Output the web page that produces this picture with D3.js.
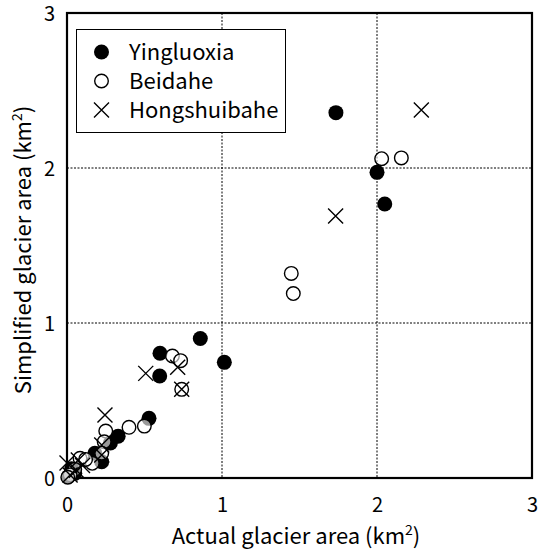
<!DOCTYPE html>
<html>
<head>
<meta charset="utf-8">
<script src="https://cdn.jsdelivr.net/npm/d3@7"></script>
<style>
body { margin: 0; background: #fff; }
svg { display: block; }
text { font-family: "Noto Sans CJK JP", "Noto Sans", sans-serif; fill: #000; }
</style>
</head>
<body>
<svg id="chart" width="540" height="550"></svg>
<script>
const seriesNames = ["Yingluoxia", "Beidahe", "Hongshuibahe"];
const yingluoxia = [[1.735,2.357],[2.0,1.972],[2.05,1.768],[0.86,0.90],[0.60,0.805],[1.015,0.746],[0.598,0.658],[0.529,0.385],[0.33,0.27],[0.28,0.226],[0.224,0.105],[0.18,0.16],[0.05,0.03],[0.01,0.01],[0.03,0.06]];
const beidahe = [[2.03,2.06],[2.157,2.065],[1.447,1.32],[1.46,1.19],[0.68,0.787],[0.733,0.757],[0.74,0.572],[0.499,0.335],[0.40,0.327],[0.25,0.303],[0.24,0.234],[0.224,0.16],[0.163,0.095],[0.084,0.127],[0.05,0.056],[0.02,0.02],[0.005,0.005],[0.12,0.12]];
const hongshuibahe = [[2.286,2.374],[1.733,1.69],[0.714,0.714],[0.508,0.675],[0.74,0.572],[0.245,0.406],[0.224,0.213],[0.224,0.148],[0.073,0.116],[0.06,0.05],[0.0,0.097],[0.02,0.02],[0.1,0.08]];
const xTicks = [0, 1, 2, 3];
const yTicks = [0, 1, 2, 3];
const xTitle = "Actual glacier area (km";
const yTitle = "Simplified glacier area (km";

const svg = d3.select("#chart");
const L = 67, R = 532, T = 13, B = 478;
const x = d3.scaleLinear().domain([0, 3]).range([L, R]);
const y = d3.scaleLinear().domain([0, 3]).range([B, T]);
const r = 7.5;

// grid
const grid = svg.append("g");
grid.selectAll(".gx").data(xTicks.filter(d => d > 0 && d < 3)).join("line")
  .attr("x1", d => x(d)).attr("x2", d => x(d)).attr("y1", T).attr("y2", B)
  .attr("stroke", "#000").attr("stroke-width", 1).attr("stroke-dasharray", "2,1.5");
grid.selectAll(".gy").data(yTicks.filter(d => d > 0 && d < 3)).join("line")
  .attr("y1", d => y(d)).attr("y2", d => y(d)).attr("x1", L).attr("x2", R)
  .attr("stroke", "#000").attr("stroke-width", 1).attr("stroke-dasharray", "2,1.5");

// axes
const xAxis = d3.axisBottom(x).tickValues(xTicks).tickSize(0).tickPadding(0).tickFormat(d3.format("d"));
const gx = svg.append("g").attr("transform", `translate(0,${B})`).call(xAxis);
gx.select(".domain").remove();
gx.selectAll("text").attr("y", 34).attr("dy", null).style("font-size", "20px");
const yAxis = d3.axisLeft(y).tickValues(yTicks).tickSize(0).tickPadding(0).tickFormat(d3.format("d"));
const gy = svg.append("g").attr("transform", `translate(${L},0)`).call(yAxis);
gy.select(".domain").remove();
gy.selectAll("text").attr("x", -12).attr("dy", "0.36em").style("font-size", "20px");

// frame
svg.append("rect").attr("x", L).attr("y", T).attr("width", R - L).attr("height", B - T)
  .attr("fill", "none").attr("stroke", "#000").attr("stroke-width", 2.2);

// titles
const xt = svg.append("text").attr("x", 296).attr("y", 544).attr("text-anchor", "middle").style("font-size", "22px");
xt.append("tspan").text(xTitle);
xt.append("tspan").attr("dy", -9).style("font-size", "14px").text("2");
xt.append("tspan").attr("dy", 9).text(")");
const yt = svg.append("text").attr("transform", `translate(31,250) rotate(-90)`).attr("text-anchor", "middle").style("font-size", "22px");
yt.append("tspan").text(yTitle);
yt.append("tspan").attr("dy", -9).style("font-size", "14px").text("2");
yt.append("tspan").attr("dy", 9).text(")");

// markers
function drawCross(g, cx, cy, s) {
  g.append("path").attr("d", `M${cx - s},${cy - s}L${cx + s},${cy + s}M${cx - s},${cy + s}L${cx + s},${cy - s}`)
    .attr("stroke", "#000").attr("stroke-width", 1.4).attr("fill", "none");
}
const pts = svg.append("g");
pts.selectAll(".yl").data(yingluoxia).join("circle")
  .attr("cx", d => x(d[0])).attr("cy", d => y(d[1])).attr("r", r).attr("fill", "#000");
pts.selectAll(".bd").data(beidahe).join("circle")
  .attr("cx", d => x(d[0])).attr("cy", d => y(d[1])).attr("r", r - 0.7)
  .attr("fill", "#fff").attr("fill-opacity", 0.6).attr("stroke", "#000").attr("stroke-width", 1.4);
const hg = pts.append("g");
hongshuibahe.forEach(d => drawCross(hg, x(d[0]), y(d[1]), 7.5));

// legend
const lg = svg.append("g");
lg.append("rect").attr("x", 76.5).attr("y", 29.5).attr("width", 209).attr("height", 103)
  .attr("fill", "#fff").attr("stroke", "#000").attr("stroke-width", 1);
const rows = [52, 81, 110];
lg.append("circle").attr("cx", 101.5).attr("cy", rows[0]).attr("r", r).attr("fill", "#000");
lg.append("circle").attr("cx", 101.5).attr("cy", rows[1]).attr("r", r - 0.7).attr("fill", "#fff").attr("stroke", "#000").attr("stroke-width", 1.4);
drawCross(lg, 101.5, rows[2], 7.5);
lg.selectAll(".lt").data(seriesNames).join("text")
  .attr("x", 129).attr("y", (d, i) => rows[i]).attr("dy", "0.36em").style("font-size", "22px").text(d => d);
</script>
</body>
</html>
